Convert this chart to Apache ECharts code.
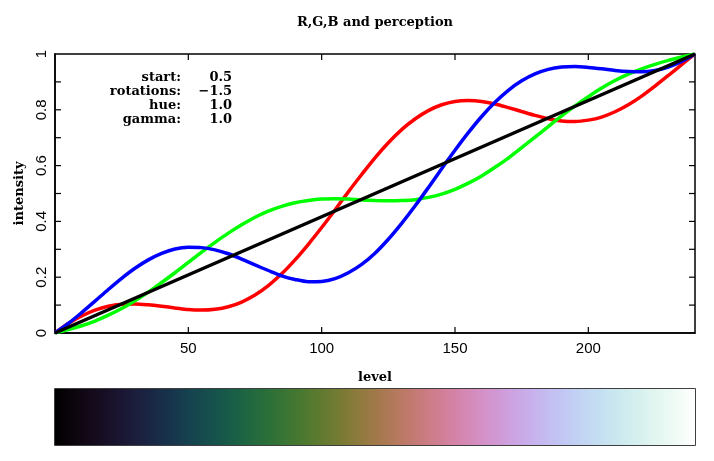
<!DOCTYPE html>
<html>
<head>
<meta charset="utf-8">
<script src="https://cdn.jsdelivr.net/npm/echarts@6/dist/echarts.min.js"></script>
<style>html,body{margin:0;padding:0;background:#fff}#c{width:714px;height:461px}</style>
</head>
<body>
<div id="c"></div>
<script>
var levels = [0,5,10,15,20,25,30,35,40,45,50,55,60,65,70,75,80,85,90,95,100,105,110,115,120,125,130,135,140,145,150,155,160,165,170,175,180,185,190,195,200,205,210,215,220,225,230,235,240];
var red   = [0,0.034,0.061,0.082,0.096,0.103,0.104,0.101,0.096,0.090,0.084,0.082,0.085,0.094,0.111,0.136,0.170,0.212,0.262,0.318,0.378,0.441,0.506,0.568,0.628,0.682,0.729,0.767,0.797,0.818,0.830,0.833,0.830,0.821,0.808,0.794,0.780,0.768,0.760,0.758,0.763,0.774,0.793,0.818,0.849,0.885,0.923,0.962,1];
var green = [0,0.012,0.026,0.043,0.064,0.088,0.116,0.147,0.181,0.216,0.253,0.290,0.325,0.358,0.388,0.415,0.437,0.454,0.467,0.475,0.480,0.481,0.480,0.477,0.475,0.474,0.475,0.478,0.486,0.498,0.515,0.537,0.563,0.594,0.627,0.664,0.702,0.740,0.778,0.814,0.847,0.878,0.905,0.928,0.947,0.963,0.977,0.989,1];
var blue  = [0,0.034,0.073,0.114,0.156,0.196,0.232,0.262,0.285,0.301,0.307,0.306,0.298,0.284,0.265,0.244,0.224,0.205,0.192,0.184,0.185,0.195,0.216,0.246,0.286,0.336,0.393,0.455,0.521,0.589,0.655,0.718,0.776,0.827,0.870,0.904,0.929,0.945,0.953,0.955,0.952,0.947,0.941,0.937,0.936,0.941,0.953,0.973,1];
var percLevels = [0,240];
var perception = [0,1];
var xTicks = [50,100,150,200];
var yTickVals = [0.1,0.2,0.3,0.4,0.5,0.6,0.7,0.8,0.9];
var yTicks = ['0','0.2','0.4','0.6','0.8','1'];
var params = [['start:','0.5'],['rotations:','\u22121.5'],['hue:','1.0'],['gamma:','1.0']];

function pairs(xs, ys){ return xs.map(function(x,i){ return [x, ys[i]]; }); }
function clamp(v){ return Math.max(0, Math.min(1, v)); }
var stops = levels.map(function(l,i){
  return { offset: l/240, color: 'rgb(' + Math.round(clamp(red[i])*255) + ',' + Math.round(clamp(green[i])*255) + ',' + Math.round(clamp(blue[i])*255) + ')' };
});

// tick marks: [x, y, side]  side 0=bottom 1=top 2=left 3=right
var tickData = [];
xTicks.forEach(function(v){ tickData.push([v, 0, 0]); tickData.push([v, 1, 1]); });
yTickVals.forEach(function(v){ tickData.push([0, v, 2]); tickData.push([240, v, 3]); });

var serif = 'DejaVu Serif';
var sans = 'Liberation Sans';
var chart = echarts.init(document.getElementById('c'), null, {renderer:'canvas'});

var graphics = [
  {type:'text', x:375, y:23, style:{text:'R,G,B and perception', fontFamily:serif, fontSize:13, fontWeight:'bold', fill:'#000', textAlign:'center', textVerticalAlign:'middle'}}
];
params.forEach(function(p, i){
  graphics.push({type:'text', x:181, y:78 + i*14, style:{text:p[0], fontFamily:serif, fontSize:13, fontWeight:'bold', fill:'#000', textAlign:'right', textVerticalAlign:'middle'}});
  graphics.push({type:'text', x:232, y:78 + i*14, style:{text:p[1], fontFamily:serif, fontSize:13, fontWeight:'bold', fill:'#000', textAlign:'right', textVerticalAlign:'middle'}});
});

var TL = 6;
var axLine = {show:true, lineStyle:{color:'#000', width:1.5}};
var dirs = [[0,-TL],[0,TL],[TL,0],[-TL,0]];

var option = {
  animation:false,
  backgroundColor:'#fff',
  graphic: graphics,
  grid:[
    {left:55, right:19, top:54, bottom:128, show:true, borderColor:'#000', borderWidth:1.5, backgroundColor:'transparent'},
    {left:55, right:19, top:389, height:56, show:true, borderColor:'#000', borderWidth:1.5, backgroundColor:'transparent'}
  ],
  xAxis:[
    {type:'value', gridIndex:0, min:0, max:240, interval:50, position:'bottom',
     name:'level', nameLocation:'middle', nameGap:38, nameTextStyle:{fontFamily:serif, fontSize:13, fontWeight:'bold', color:'#000'},
     axisLine:axLine, axisTick:{show:false},
     axisLabel:{show:true, showMinLabel:false, showMaxLabel:false, fontFamily:sans, fontSize:15, color:'#000', margin:8,
       formatter:function(v){ return xTicks.indexOf(v) >= 0 ? String(v) : ''; }},
     splitLine:{show:false}},
    {type:'value', gridIndex:1, min:0, max:240, show:false}
  ],
  yAxis:[
    {type:'value', gridIndex:0, min:0, max:1, interval:0.2, position:'left',
     name:'intensity', nameLocation:'middle', nameRotate:90, nameGap:25, nameTextStyle:{fontFamily:serif, fontSize:13, fontWeight:'bold', color:'#000'},
     axisLine:axLine, axisTick:{show:false},
     axisLabel:{show:true, rotate:90, fontFamily:sans, fontSize:15, color:'#000', margin:6,
       formatter:function(v){ return yTicks[Math.round(v*5)]; }},
     splitLine:{show:false}},
    {type:'category', gridIndex:1, data:['bar'], show:false}
  ],
  series:[
    {type:'custom', name:'ticks', xAxisIndex:0, yAxisIndex:0, data:tickData, clip:false, silent:true, z:10,
     encode:{x:0, y:1},
     renderItem:function(p, api){
       var pt = api.coord([api.value(0), api.value(1)]);
       var d = dirs[api.value(2)];
       return {type:'line', shape:{x1:pt[0], y1:pt[1], x2:pt[0]+d[0], y2:pt[1]+d[1]}, style:{stroke:'#000', lineWidth:1.2}};
     }},
    {type:'line', name:'R', xAxisIndex:0, yAxisIndex:0, data:pairs(levels, red), smooth:0.3, showSymbol:false, lineStyle:{color:'#ff0000', width:3.5}, itemStyle:{color:'#ff0000'}},
    {type:'line', name:'G', xAxisIndex:0, yAxisIndex:0, data:pairs(levels, green), smooth:0.3, showSymbol:false, lineStyle:{color:'#00ff00', width:3.5}, itemStyle:{color:'#00ff00'}},
    {type:'line', name:'B', xAxisIndex:0, yAxisIndex:0, data:pairs(levels, blue), smooth:0.3, showSymbol:false, lineStyle:{color:'#0000ff', width:3.5}, itemStyle:{color:'#0000ff'}},
    {type:'line', name:'perception', xAxisIndex:0, yAxisIndex:0, data:pairs(percLevels, perception), showSymbol:false, lineStyle:{color:'#000', width:3.5}, itemStyle:{color:'#000'}},
    {type:'bar', name:'colorbar', xAxisIndex:1, yAxisIndex:1, data:[240], barWidth:'100%', silent:true,
     itemStyle:{color:{type:'linear', x:0, y:0, x2:1, y2:0, colorStops:stops}}}
  ]
};
chart.setOption(option);
</script>
</body>
</html>
